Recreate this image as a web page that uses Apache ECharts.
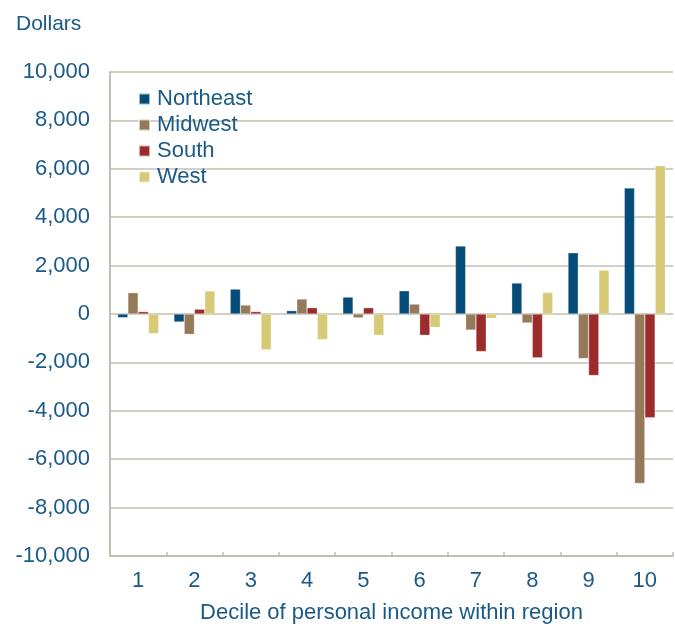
<!DOCTYPE html>
<html>
<head>
<meta charset="utf-8">
<script src="https://cdn.jsdelivr.net/npm/echarts@6/dist/echarts.min.js"></script>
<style>
html,body{margin:0;padding:0;background:#fff;}
#chart{width:675px;height:626px;}
</style>
</head>
<body>
<div id="chart"></div>
<script>
// deciles and values (dollars)
var deciles = ['1','2','3','4','5','6','7','8','9','10'];
var northeast = [-150, -330, 1030, 140, 700, 960, 2810, 1280, 2530, 5210];
var midwest = [880, -840, 370, 620, -160, 410, -665, -370, -1840, -7000];
var south = [100, 200, 100, 260, 260, -880, -1550, -1810, -2540, -4290];
var west = [-810, 950, -1480, -1060, -880, -550, -180, 890, 1815, 6130];

var textColor = '#1a5a86';
var gridColor = '#c2c0b2';

var myChart = echarts.init(document.getElementById('chart'));

function bar(name, data, color) {
	return {
		name: name,
		type: 'bar',
		data: data,
		barGap: '0%',
		barCategoryGap: '27%',
		itemStyle: {color: color, borderColor: 'rgba(255,255,255,0.6)', borderWidth: 0.5}
	};
}

var option = {
	backgroundColor: '#fff',
	animation: false,
	textStyle: {fontFamily: 'Liberation Sans, Arial, sans-serif'},
	title: {
		text: 'Dollars',
		left: 11,
		top: 9,
		textStyle: {color: textColor, fontSize: 21, fontWeight: 'normal'}
	},
	legend: {
		orient: 'vertical',
		left: 133,
		top: 83,
		itemWidth: 11,
		itemHeight: 11,
		itemGap: 4,
		icon: 'rect',
		textStyle: {color: textColor, fontSize: 22, padding: [0, 0, 0, 2]},
		data: ['Northeast', 'Midwest', 'South', 'West']
	},
	grid: {left: 110, right: 2, top: 72, bottom: 70, containLabel: false, outerBoundsMode: 'none'},
	xAxis: {
		type: 'category',
		data: deciles,
		name: 'Decile of personal income within region',
		nameLocation: 'middle',
		nameGap: 46,
		nameTextStyle: {color: textColor, fontSize: 22},
		axisLine: {onZero: false, lineStyle: {color: gridColor, width: 2}},
		axisTick: {show: true, inside: true, length: 4, lineStyle: {color: gridColor, width: 1.5}},
		axisLabel: {color: textColor, fontSize: 22, margin: 14}
	},
	yAxis: {
		type: 'value',
		min: -10000,
		max: 10000,
		interval: 2000,
		axisLine: {show: true, lineStyle: {color: gridColor, width: 2}},
		axisTick: {show: false},
		splitLine: {lineStyle: {color: gridColor, width: 1.5}},
		axisLabel: {
			color: textColor,
			fontSize: 22,
			margin: 20,
			formatter: function (v) {
				return v.toLocaleString('en-US');
			}
		}
	},
	series: [
		bar('Northeast', northeast, '#064c78'),
		bar('Midwest', midwest, '#957a5a'),
		bar('South', south, '#9c2b2b'),
		bar('West', west, '#d7ca77')
	]
};
myChart.setOption(option);
</script>
</body>
</html>
